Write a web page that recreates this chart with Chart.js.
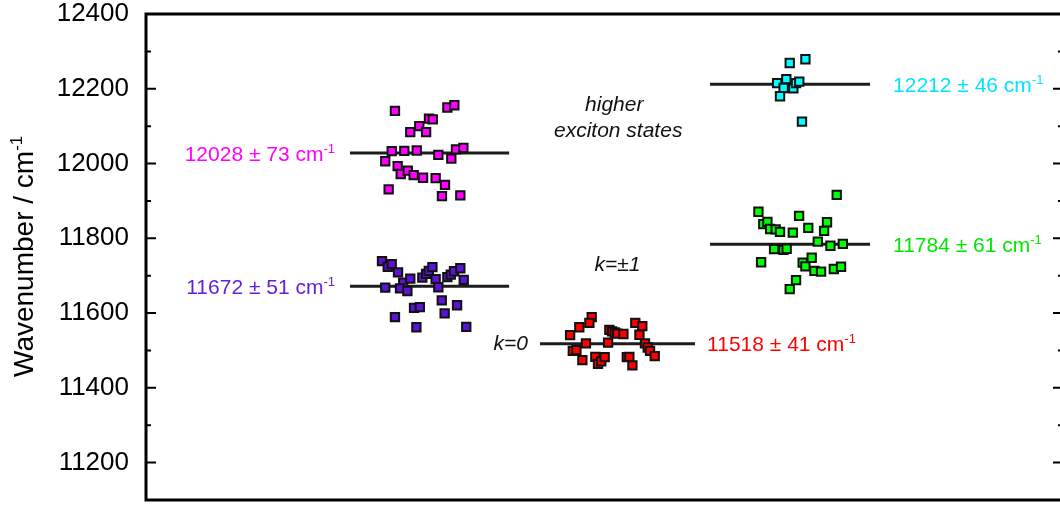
<!DOCTYPE html>
<html>
<head>
<meta charset="utf-8">
<script src="https://cdn.jsdelivr.net/npm/chart.js@4.4.1/dist/chart.umd.min.js"></script>
<style>
  html, body { margin: 0; padding: 0; overflow: hidden; background: #fff; }
  #wrap { width: 1070px; height: 505px; }
</style>
</head>
<body>
<div id="wrap"><canvas id="c" width="1070" height="505"></canvas></div>
<script>
// Transition energies (cm^-1) of single complexes, grouped by state.
// x is the column position (1, 2, 3) with a small horizontal spread.
const higherLeftX = [0.808,1.099,1.138,0.997,1.018,0.943,0.893,0.981,0.790,0.860,0.929,1.049,1.147,1.188,1.121,0.754,0.823,0.840,0.879,0.912,0.964,1.034,1.086,0.773,1.069,1.171];
const higherLeftY = [12141,12150,12156,12120,12118,12100,12084,12084,12033,12034,12035,12023,12038,12042,12013,12006,11993,11972,11981,11969,11962,11961,11943,11931,11913,11915];

const kpm1LeftX = [0.736,0.768,0.790,0.825,0.854,0.893,0.754,0.836,0.877,0.960,0.981,0.996,1.016,1.034,1.049,1.099,1.118,1.136,1.171,1.190,1.068,1.153,0.914,0.946,1.084,0.808,0.927,1.204];
const kpm1LeftY = [11739,11724,11731,11709,11681,11692,11668,11666,11659,11695,11705,11713,11723,11691,11669,11696,11703,11712,11720,11689,11634,11621,11614,11616,11599,11589,11562,11563];

const k0X = [1.901,1.888,1.832,1.781,1.999,2.014,2.029,2.043,2.077,2.143,2.182,2.166,1.869,1.992,2.197,2.212,2.225,2.251,1.796,1.816,1.849,1.921,1.936,1.954,1.973,2.096,2.110,2.127];
const k0Y = [11589,11574,11562,11541,11555,11551,11548,11545,11544,11574,11565,11542,11519,11521,11519,11508,11499,11485,11499,11501,11474,11483,11464,11471,11482,11482,11483,11460];

const higherRightX = [3.001,3.088,2.931,2.982,2.967,3.021,3.036,3.054,2.947,3.069];
const higherRightY = [12269,12279,12215,12226,12202,12201,12215,12219,12180,12112];

const kpm1RightX = [3.262,2.827,2.854,2.877,2.892,2.923,2.947,3.018,3.053,3.104,3.208,3.192,3.157,3.227,3.296,2.914,2.966,2.984,2.842,3.073,3.123,3.088,3.138,3.175,3.246,3.286,3.036,3.001];
const kpm1RightY = [11916,11871,11838,11844,11825,11824,11817,11815,11860,11828,11843,11820,11791,11780,11785,11771,11769,11772,11736,11735,11748,11725,11713,11711,11718,11724,11688,11664];

// Mean ± standard deviation of each group, and the column span of its mean line
const groupMeans = [12028, 11672, 11518, 12212, 11784];
const groupSD    = [73, 51, 41, 46, 61];
const meanFrom   = [0.558, 0.558, 1.614, 2.558, 2.558];
const meanTo     = [1.442, 1.442, 2.475, 3.447, 3.447];

// Axis range and tick labels
const yMin = 11100, yMax = 12400;
const yTickLabels = [11200, 11400, 11600, 11800, 12000, 12200, 12400];

const FONT = '"Liberation Sans", Arial, Helvetica, sans-serif';
const colors = ['#ff00ff', '#5b14d6', '#ff0000', '#00ffff', '#00ff00'];
const textColors = ['#ff00ff', '#6420dc', '#ff0000', '#00e4ff', '#00e800'];

const seriesX = [higherLeftX, kpm1LeftX, k0X, higherRightX, kpm1RightX];
const seriesY = [higherLeftY, kpm1LeftY, k0Y, higherRightY, kpm1RightY];

// Where the "mean ± sd" label sits: side of the line and column anchor
const labelPlacement = [
  { align: 'right', x: 0.475 },
  { align: 'right', x: 0.475 },
  { align: 'left',  x: 2.542 },
  { align: 'left',  x: 3.575 },
  { align: 'left',  x: 3.575 }
];

const datasets = [];
seriesX.forEach((xs, i) => {
  datasets.push({
    type: 'scatter',
    data: xs.map((x, j) => ({ x: x, y: seriesY[i][j] })),
    showLine: false,
    pointStyle: 'rect',
    pointRadius: 5.9,
    pointBackgroundColor: colors[i],
    pointBorderColor: '#111',
    pointBorderWidth: 2,
    order: 1
  });
});
groupMeans.forEach((m, i) => {
  datasets.push({
    type: 'line',
    data: [{ x: meanFrom[i], y: m }, { x: meanTo[i], y: m }],
    borderColor: '#1c1c1c',
    borderWidth: 3,
    pointRadius: 0,
    fill: false,
    order: 5
  });
});

// Box frame with inward major/minor ticks on both vertical sides
const framePlugin = {
  id: 'frame',
  afterDatasetsDraw(chart) {
    const { ctx, chartArea: a, scales: { y } } = chart;
    ctx.save();
    ctx.strokeStyle = '#000';
    ctx.lineWidth = 2;
    y.ticks.forEach(t => {
      const py = y.getPixelForValue(t.value);
      if (py <= a.top + 1 || py >= a.bottom - 1) return;
      const len = (t.value % 200 === 0) ? 10 : 5;
      ctx.beginPath();
      ctx.moveTo(a.left, py); ctx.lineTo(a.left + len, py);
      ctx.moveTo(a.right, py); ctx.lineTo(a.right - len, py);
      ctx.stroke();
    });
    ctx.lineWidth = 3;
    ctx.beginPath();
    ctx.moveTo(a.left, a.bottom);
    ctx.lineTo(a.left, a.top);
    ctx.lineTo(a.right, a.top);
    ctx.lineTo(a.right, a.bottom);
    ctx.closePath();
    ctx.stroke();
    ctx.restore();
  }
};

// Text with a raised "-1" exponent, anchored by alignment
function drawWithExponent(ctx, base, exp, x, yMid, size, color, align) {
  const supSize = Math.round(size * 0.62);
  ctx.fillStyle = color;
  ctx.textBaseline = 'alphabetic';
  ctx.font = size + 'px ' + FONT;
  const wBase = ctx.measureText(base).width;
  ctx.font = supSize + 'px ' + FONT;
  const wExp = ctx.measureText(exp).width;
  const left = align === 'right' ? x - wBase - wExp : x;
  const baseline = yMid + size * 0.36;
  ctx.textAlign = 'left';
  ctx.font = size + 'px ' + FONT;
  ctx.fillText(base, left, baseline);
  ctx.font = supSize + 'px ' + FONT;
  ctx.fillText(exp, left + wBase, baseline - size * 0.38);
}

const annotationPlugin = {
  id: 'annotations',
  afterDatasetsDraw(chart) {
    const { ctx, scales: { x, y } } = chart;
    ctx.save();
    // mean ± sd labels
    groupMeans.forEach((m, i) => {
      const p = labelPlacement[i];
      drawWithExponent(ctx, m + ' \u00b1 ' + groupSD[i] + ' cm', '-1',
        x.getPixelForValue(p.x), y.getPixelForValue(m), 21, textColors[i], p.align);
    });
    // state names
    ctx.fillStyle = '#111';
    ctx.font = 'italic 21px ' + FONT;
    ctx.textBaseline = 'middle';
    ctx.textAlign = 'center';
    ctx.fillText('higher', x.getPixelForValue(2.026), y.getPixelForValue(12157));
    ctx.fillText('exciton states', x.getPixelForValue(2.048), y.getPixelForValue(12087));
    ctx.fillText('k=\u00b11', x.getPixelForValue(2.044), y.getPixelForValue(11729));
    ctx.textAlign = 'right';
    ctx.fillText('k=0', x.getPixelForValue(1.547), y.getPixelForValue(11516));
    // y axis title, rotated
    ctx.translate(33, 377);
    ctx.rotate(-Math.PI / 2);
    ctx.textAlign = 'left';
    ctx.textBaseline = 'alphabetic';
    ctx.fillStyle = '#000';
    ctx.font = '28px ' + FONT;
    const t = 'Wavenumber / cm';
    ctx.fillText(t, 0, 0);
    const w = ctx.measureText(t).width;
    ctx.font = '17px ' + FONT;
    ctx.fillText('-1', w, -11);
    ctx.restore();
  }
};

new Chart(document.getElementById('c'), {
  type: 'scatter',
  data: { datasets: datasets },
  options: {
    responsive: false,
    animation: false,
    events: [],
    layout: { autoPadding: false, padding: { top: 14, bottom: 5, right: 7, left: 0 } },
    plugins: { legend: { display: false }, tooltip: { enabled: false } },
    scales: {
      x: { type: 'linear', display: false, min: -0.575, max: 4.519 },
      y: {
        type: 'linear', min: yMin, max: yMax,
        afterFit(scale) {
          scale.width = 146;
          scale.paddingTop = 0;
          scale.paddingBottom = 0;
        },
        grid: { display: false, drawTicks: false },
        border: { display: false },
        ticks: {
          stepSize: 100, autoSkip: false, padding: 17, color: '#000',
          font: { family: FONT, size: 26 },
          callback: v => yTickLabels.includes(v) ? String(v) : ''
        }
      }
    }
  },
  plugins: [framePlugin, annotationPlugin]
});
</script>
</body>
</html>
